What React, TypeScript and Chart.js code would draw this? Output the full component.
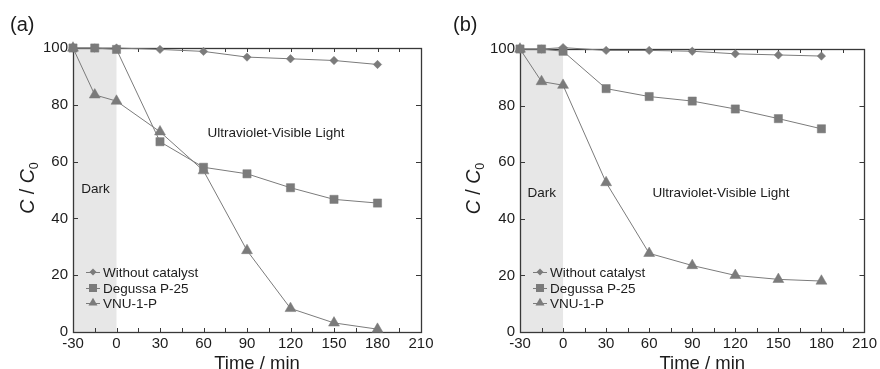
import React, { useEffect, useRef } from 'react';
import { Chart, registerables } from 'chart.js';

Chart.register(...registerables);

// ---- Data ----
const TIMES = [-30, -15, 0, 30, 60, 90, 120, 150, 180];
const SERIES_NAMES = ['Without catalyst', 'Degussa P-25', 'VNU-1-P'];

const A_WITHOUT = [100, 100, 100, 99.5, 98.8, 96.8, 96.2, 95.6, 94.2];
const A_DEGUSSA = [100, 100, 99.5, 67, 58, 55.7, 50.8, 46.7, 45.4];
const A_VNU = [100, 83.5, 81.3, 70.5, 56.8, 28.7, 8.3, 3.2, 1.0];

const B_WITHOUT = [100, 100, 100.5, 99.5, 99.5, 99.2, 98.3, 97.9, 97.5];
const B_DEGUSSA = [100, 100, 99.2, 86, 83.2, 81.6, 78.8, 75.4, 71.8];
const B_VNU = [100, 88.5, 87.2, 52.8, 27.8, 23.5, 20, 18.6, 18.0];

const X_MIN = -30;
const X_MAX = 210;
const X_STEP = 30;
const X_MINOR = 15;
const Y_MIN = 0;
const Y_MAX = 100;
const Y_STEP = 20;
const DARK_START = -30;
const DARK_END = 0;

const X_TITLE = 'Time / min';
const LIGHT_LABEL = 'Ultraviolet-Visible Light';
const DARK_LABEL = 'Dark';

const FONT = 'Arial, "Liberation Sans", Helvetica, sans-serif';
const GRAY = '#7b7b7b';
const TEXT = '#1c1c1c';
const POINT_STYLES = ['rectRot', 'rect', 'triangle'];
const POINT_RADII = [4.2, 5.8, 6.3];

type Cfg = {
  letter: string;
  series: number[][];
  yw: number;
  right: number;
  top: number;
  xh: number;
  titleX: number;
  letterX: number;
  lightPos: [number, number];
  darkPos: [number, number];
};

const CHARTS: Cfg[] = [
  {
    letter: '(a)',
    series: [A_WITHOUT, A_DEGUSSA, A_VNU],
    yw: 73, right: 19, top: 48, xh: 37,
    titleX: 27, letterX: 10,
    lightPos: [110, 70], darkPos: [-14.5, 50.3],
  },
  {
    letter: '(b)',
    series: [B_WITHOUT, B_DEGUSSA, B_VNU],
    yw: 80, right: 12, top: 49, xh: 37,
    titleX: 33, letterX: 13,
    lightPos: [110, 49], darkPos: [-14.8, 49],
  },
];

function drawMarker(ctx: CanvasRenderingContext2D, style: string, x: number, y: number, r: number) {
  ctx.beginPath();
  if (style === 'rectRot') {
    ctx.moveTo(x, y - r); ctx.lineTo(x + r, y); ctx.lineTo(x, y + r); ctx.lineTo(x - r, y);
  } else if (style === 'rect') {
    ctx.rect(x - r, y - r, 2 * r, 2 * r);
  } else {
    const h = r * 0.866;
    ctx.moveTo(x, y - r); ctx.lineTo(x + h, y + r / 2); ctx.lineTo(x - h, y + r / 2);
  }
  ctx.closePath();
  ctx.fill();
}

function makePlugin(cfg: Cfg) {
  return {
    id: 'decor',
    beforeDatasetsDraw(chart: any) {
      const { ctx, chartArea, scales } = chart;
      const { left, right, top, bottom } = chartArea;
      const x = scales.x, y = scales.y;
      ctx.save();
      const x0 = x.getPixelForValue(DARK_START), x1 = x.getPixelForValue(DARK_END);
      ctx.fillStyle = '#e7e7e7';
      ctx.fillRect(x0, top, x1 - x0, bottom - top);
      ctx.strokeStyle = '#383838';
      ctx.lineWidth = 1.3;
      ctx.strokeRect(Math.round(left) + 0.5, Math.round(top) + 0.5, Math.round(right - left), Math.round(bottom - top));
      ctx.lineWidth = 1;
      ctx.beginPath();
      for (let v = X_MIN + X_MINOR; v < X_MAX; v += X_MINOR) {
        const px = Math.round(x.getPixelForValue(v)) + 0.5;
        ctx.moveTo(px, bottom); ctx.lineTo(px, bottom - 4);
        ctx.moveTo(px, top); ctx.lineTo(px, top + 4);
      }
      for (let v = Y_MIN + Y_STEP; v < Y_MAX; v += Y_STEP) {
        const py = Math.round(y.getPixelForValue(v)) + 0.5;
        ctx.moveTo(left, py); ctx.lineTo(left + 5, py);
        ctx.moveTo(right, py); ctx.lineTo(right - 5, py);
      }
      ctx.stroke();
      ctx.restore();
    },
    afterDraw(chart: any) {
      const { ctx, chartArea, scales } = chart;
      const { left, right, top, bottom } = chartArea;
      const x = scales.x, y = scales.y;
      ctx.save();
      ctx.fillStyle = TEXT;
      ctx.textBaseline = 'middle';
      // panel letter
      ctx.font = `20px ${FONT}`;
      ctx.textAlign = 'left';
      ctx.fillText(cfg.letter, cfg.letterX, 25);
      // annotations
      ctx.font = `13.5px ${FONT}`;
      ctx.textAlign = 'center';
      ctx.fillText(LIGHT_LABEL, x.getPixelForValue(cfg.lightPos[0]), y.getPixelForValue(cfg.lightPos[1]));
      ctx.fillText(DARK_LABEL, x.getPixelForValue(cfg.darkPos[0]), y.getPixelForValue(cfg.darkPos[1]));
      // x title
      ctx.font = `18.5px ${FONT}`;
      ctx.textBaseline = 'alphabetic';
      ctx.fillText(X_TITLE, (left + right) / 2 + 10, 369);
      // y title: C / C0
      ctx.translate(cfg.titleX, (top + bottom) / 2 - 2);
      ctx.rotate(-Math.PI / 2);
      ctx.textAlign = 'left';
      const fI = `italic 19.5px ${FONT}`, fN = `19.5px ${FONT}`, fS = `12.5px ${FONT}`;
      const parts: [string, string, number][] = [['C', fI, 0], [' / ', fN, 0], ['C', fI, 0], ['0', fS, 4]];
      let total = 0;
      for (const p of parts) { ctx.font = p[1]; total += ctx.measureText(p[0]).width; }
      let cx = -total / 2;
      for (const p of parts) {
        ctx.font = p[1];
        ctx.fillText(p[0], cx, 7 + p[2]);
        cx += ctx.measureText(p[0]).width;
      }
      ctx.setTransform(1, 0, 0, 1, 0, 0);
      // legend
      const mx = left + 20;
      const rows = [272, 288, 303];
      ctx.font = `13.5px ${FONT}`;
      ctx.textAlign = 'left';
      ctx.textBaseline = 'middle';
      const legR = [3.5, 4, 5.2];
      SERIES_NAMES.forEach((name, i) => {
        ctx.strokeStyle = GRAY;
        ctx.lineWidth = 1;
        ctx.beginPath();
        ctx.moveTo(mx - 7, rows[i] + 0.5); ctx.lineTo(mx + 7, rows[i] + 0.5);
        ctx.stroke();
        ctx.fillStyle = GRAY;
        drawMarker(ctx, POINT_STYLES[i], mx, rows[i], legR[i]);
        ctx.fillStyle = TEXT;
        ctx.fillText(name, mx + 10, rows[i] + 1);
      });
      ctx.restore();
    },
  };
}

function Panel({ cfg }: { cfg: Cfg }) {
  const ref = useRef<HTMLCanvasElement>(null);
  useEffect(() => {
    if (!ref.current) return;
    const chart = new Chart(ref.current, {
      type: 'line',
      data: {
        datasets: cfg.series.map((vals, i) => ({
          label: SERIES_NAMES[i],
          data: TIMES.map((t, j) => ({ x: t, y: vals[j] })),
          borderColor: GRAY,
          backgroundColor: GRAY,
          borderWidth: 1,
          pointStyle: POINT_STYLES[i] as any,
          pointRadius: POINT_RADII[i],
          pointBorderWidth: 0.5,
          pointBorderColor: GRAY,
          pointBackgroundColor: GRAY,
          clip: false as any,
          tension: 0,
        })),
      },
      options: {
        responsive: false,
        animation: false,
        layout: { padding: { top: cfg.top, right: cfg.right, left: 0, bottom: 0 } },
        plugins: { legend: { display: false }, tooltip: { enabled: false } },
        scales: {
          x: {
            type: 'linear',
            min: X_MIN,
            max: X_MAX,
            grid: { display: false, drawTicks: false },
            border: { display: false },
            ticks: {
              stepSize: X_STEP,
              padding: 3,
              color: TEXT,
              font: { size: 15, family: FONT },
              maxRotation: 0,
              autoSkip: false,
            },
            afterFit: (s: any) => { s.height = cfg.xh; },
          },
          y: {
            type: 'linear',
            min: Y_MIN,
            max: Y_MAX,
            grid: { display: false, drawTicks: false },
            border: { display: false },
            ticks: {
              stepSize: Y_STEP,
              padding: 5,
              color: TEXT,
              font: { size: 15, family: FONT },
            },
            afterFit: (s: any) => { s.width = cfg.yw; },
          },
        },
      },
      plugins: [makePlugin(cfg)],
    });
    return () => chart.destroy();
  }, [cfg]);
  return <canvas ref={ref} width={440} height={369} style={{ display: 'block', width: 440, height: 369 }} />;
}

export default function App() {
  return (
    <div style={{ position: 'absolute', left: 0, top: 0, width: 880, height: 369, display: 'flex', background: '#fff' }}>
      {CHARTS.map((c) => (
        <Panel key={c.letter} cfg={c} />
      ))}
    </div>
  );
}
